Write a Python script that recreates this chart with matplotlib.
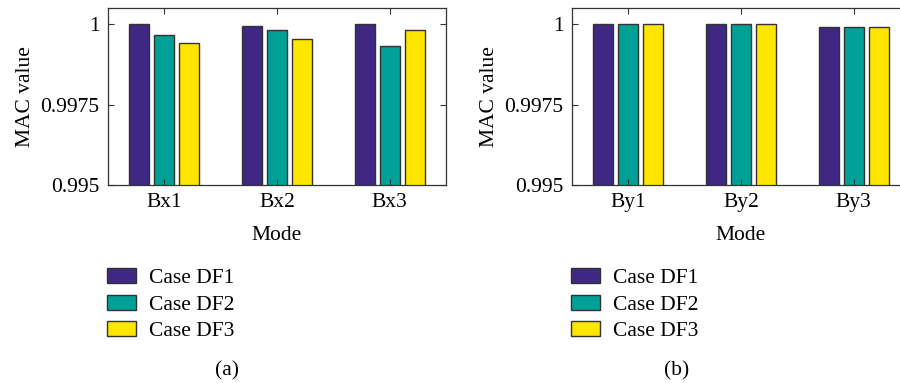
import matplotlib
matplotlib.use("Agg")
import matplotlib.pyplot as plt
import numpy as np

plt.rcParams['font.family'] = ['Liberation Serif', 'DejaVu Serif']
FS = 15.5
plt.rcParams['font.size'] = FS

cases = ["Case DF1", "Case DF2", "Case DF3"]
colors = ["#3F2884", "#00A096", "#FFE600"]

modes_a = ["Bx1", "Bx2", "Bx3"]
df1_a = [1.00000, 0.99994, 1.00000]
df2_a = [0.99965, 0.99982, 0.99933]
df3_a = [0.99942, 0.99954, 0.99983]

modes_b = ["By1", "By2", "By3"]
df1_b = [1.00000, 1.00000, 0.99991]
df2_b = [1.00000, 1.00000, 0.99991]
df3_b = [1.00000, 1.00000, 0.99991]

yticks = [0.995, 0.9975, 1.0]
yticklabels = ["0.995", "0.9975", "1"]

W, H = 900, 383
fig = plt.figure(figsize=(W / 100, H / 100), dpi=100)

def px(l, t, r, b):
    return [l / W, 1 - b / H, (r - l) / W, (b - t) / H]

axes_specs = [
    (px(108, 8, 446, 185), modes_a, [df1_a, df2_a, df3_a], "(a)", 107, 227),
    (px(572, 8, 910, 185), modes_b, [df1_b, df2_b, df3_b], "(b)", 571, 677),
]

for rect, modes, series, tag, legx, tagx in axes_specs:
    ax = fig.add_axes(rect)
    x = np.arange(1, len(modes) + 1)
    handles = []
    for i, (vals, c) in enumerate(zip(series, colors)):
        h = ax.bar(x + (i - 1) * 0.222, vals, width=0.178, bottom=0,
                   color=c, edgecolor="#333333", linewidth=1.0)
        handles.append(h)
    ax.set_xlim(0.5, 3.5)
    ax.set_ylim(0.995, 1.0005)
    ax.set_xticks(x)
    ax.set_xticklabels(modes)
    ax.set_yticks(yticks)
    ax.set_yticklabels(yticklabels)
    ax.tick_params(direction="in", top=True, right=True, length=4, width=0.8,
                   color="#333333", labelsize=FS, pad=6)
    for s in ax.spines.values():
        s.set_color("#333333")
        s.set_linewidth(0.9)
    ax.set_xlabel("Mode", fontsize=FS, labelpad=10)
    ax.set_ylabel("MAC value", fontsize=FS, labelpad=4)
    fig.legend(handles, cases, loc="upper left",
               bbox_to_anchor=(legx / W, 1 - 268 / H),
               frameon=False, fontsize=FS, handlelength=1.35, handleheight=0.7,
               labelspacing=0.3, handletextpad=0.6, borderaxespad=0,
               borderpad=0)
    fig.text(tagx / W, 1 - 371 / H, tag, ha="center", va="center", fontsize=FS)

fig.savefig("out.png", dpi=100)
